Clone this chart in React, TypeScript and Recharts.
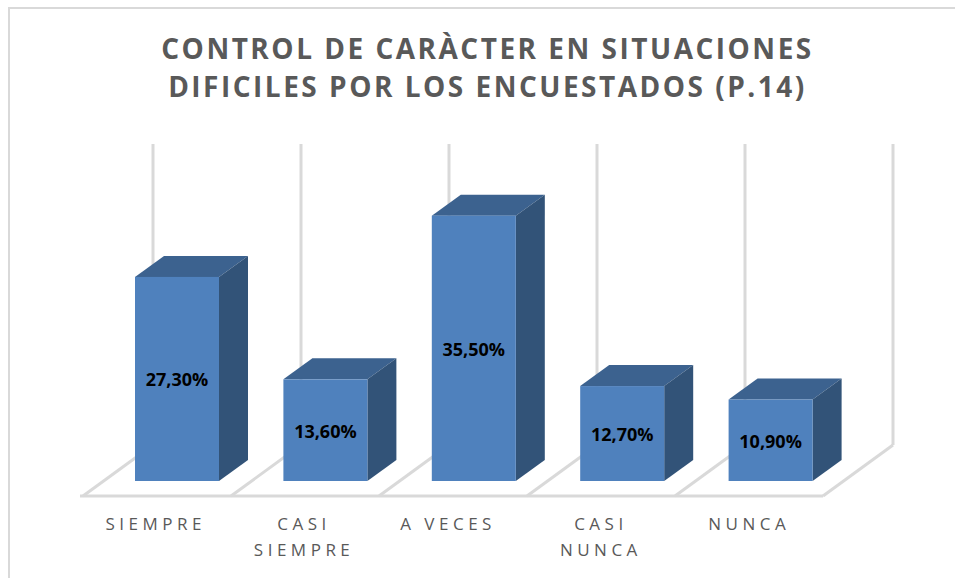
import { BarChart, Bar, XAxis, YAxis, CartesianGrid, LabelList } from 'recharts';

const categories = ['SIEMPRE', 'CASI\nSIEMPRE', 'A VECES ', 'CASI\nNUNCA', 'NUNCA'];
const percentages = [27.3, 13.6, 35.5, 12.7, 10.9];
const titleLines = ['CONTROL DE CARÀCTER EN SITUACIONES', 'DIFICILES POR LOS ENCUESTADOS (P.14)'];

const chartData = categories.map((category, i) => ({ category, value: percentages[i] }));

const WIDTH = 955;
const HEIGHT = 578;
const PLOT_LEFT = 103;
const BAND = 148.4;
const GRID = '#d9d9d9';
const FONT = '"Open Sans", sans-serif';

// floor sits in front of the bars, the wall lines behind them
const FLOOR_LEFT = 83;
const FLOOR_Y = 496;
const WALL_STEP = 148;
const WALL_DX = 70;
const WALL_DY = -51;
const wallPoints = categories.concat('').map((_, i) => FLOOR_LEFT + WALL_DX + i * WALL_STEP);

const DEPTH_X = 29;
const DEPTH_Y = -21;

const WallLine = ({ x1, y1, y2, index }: any) => {
    const frontX = x1 - WALL_DX;
    return (
        <g key={index} stroke={GRID} strokeWidth={3} fill="none">
            <line x1={x1} y1={y1} x2={x1} y2={y2} />
            <line x1={x1} y1={y2} x2={frontX} y2={FLOOR_Y} />
            {index < categories.length && (
                <line x1={index === 0 ? frontX - 3 : frontX} y1={FLOOR_Y} x2={frontX + WALL_STEP} y2={FLOOR_Y} />
            )}
        </g>
    );
};

const Box = ({ x, y, width, height }: any) => (
    <g>
        <polygon
            points={`${x},${y} ${x + DEPTH_X},${y + DEPTH_Y} ${x + width + DEPTH_X},${y + DEPTH_Y} ${x + width},${y}`}
            fill="#3c628f"
        />
        <polygon
            points={`${x + width},${y} ${x + width + DEPTH_X},${y + DEPTH_Y} ${x + width + DEPTH_X},${y + height + DEPTH_Y} ${x + width},${y + height}`}
            fill="#325378"
        />
        <rect x={x} y={y} width={width} height={height} fill="#4f81bd" />
    </g>
);

const CategoryTick = ({ x, y, payload }: any) => (
    <text
        textAnchor="middle"
        fontFamily={FONT}
        fontSize={17}
        letterSpacing={4.5}
        fill="#595959"
        style={{ whiteSpace: 'pre' }}
    >
        {String(payload.value).split('\n').map((line: string, i: number) => (
            <tspan key={line} x={x - 21.5} y={y + 41 + i * 26}>{line}</tspan>
        ))}
    </text>
);

export default function App() {
    return (
        <div style={{ position: 'absolute', left: 0, top: 0, width: WIDTH, height: HEIGHT, background: '#fff', overflow: 'hidden' }}>
            <div style={{ position: 'absolute', left: 8, top: 7, right: 0, bottom: 0, borderTop: `2px solid ${GRID}`, borderLeft: `2px solid ${GRID}` }} />
            {titleLines.map((line, i) => (
                <div
                    key={line}
                    style={{
                        position: 'absolute',
                        left: 0,
                        width: 975,
                        top: 29 + i * 38,
                        textAlign: 'center',
                        fontFamily: FONT,
                        fontWeight: 700,
                        fontSize: 28,
                        lineHeight: '38px',
                        letterSpacing: 2.5,
                        color: '#595959',
                        whiteSpace: 'nowrap',
                    }}
                >
                    {line}
                </div>
            ))}
            <div style={{ position: 'absolute', left: 0, top: 0 }}>
                <BarChart
                    width={WIDTH}
                    height={HEIGHT}
                    data={chartData}
                    margin={{ top: 182, right: WIDTH - PLOT_LEFT - BAND * 5, bottom: 0, left: PLOT_LEFT }}
                >
                    <CartesianGrid
                        horizontal={false}
                        verticalPoints={wallPoints}
                        y={144}
                        height={FLOOR_Y + WALL_DY - 144}
                        vertical={(props: any) => <WallLine {...props} />}
                    />
                    <XAxis dataKey="category" axisLine={false} tickLine={false} interval={0} height={97} tick={<CategoryTick />} />
                    <YAxis hide domain={[0, 40]} />
                    <Bar dataKey="value" barSize={84} shape={<Box />} isAnimationActive={false}>
                        <LabelList
                            dataKey="value"
                            position="center"
                            formatter={(v: any) => `${Number(v).toFixed(2).replace('.', ',')}%`}
                            fill="#000"
                            fontFamily={FONT}
                            fontWeight={700}
                            fontSize={18}
                            dy={1}
                        />
                    </Bar>
                </BarChart>
            </div>
        </div>
    );
}
